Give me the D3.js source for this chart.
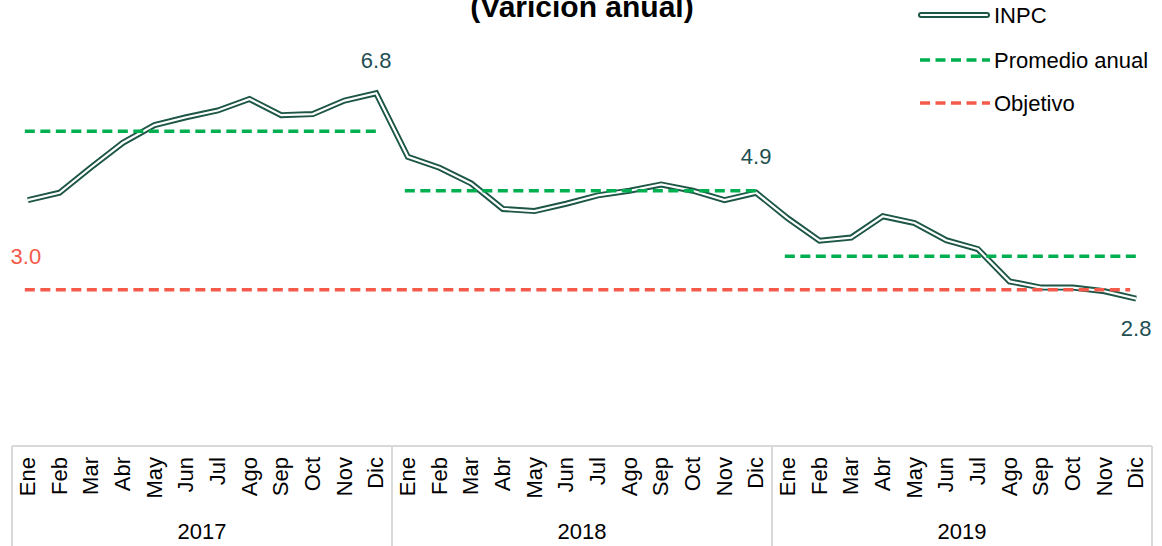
<!DOCTYPE html>
<html>
<head>
<meta charset="utf-8">
<script src="https://cdnjs.cloudflare.com/ajax/libs/d3/7.8.5/d3.min.js"></script>
<style>
	body { margin: 0; background: #fff; }
	svg { display: block; font-family: "Liberation Sans", Arial, sans-serif; }
</style>
</head>
<body>
<svg width="1162" height="546"></svg>
<script>
	// datos
	var years = ["2017", "2018", "2019"];
	var months = ["Ene","Feb","Mar","Abr","May","Jun","Jul","Ago","Sep","Oct","Nov","Dic"];
	var inpc2017 = [4.72, 4.86, 5.35, 5.82, 6.16, 6.31, 6.44, 6.66, 6.35, 6.37, 6.63, 6.77];
	var inpc2018 = [5.55, 5.34, 5.04, 4.55, 4.51, 4.65, 4.81, 4.90, 5.02, 4.90, 4.72, 4.86];
	var inpc2019 = [4.37, 3.94, 4.00, 4.41, 4.28, 3.95, 3.78, 3.16, 3.04, 3.04, 2.97, 2.83];
	var promedios = [6.04, 4.90, 3.64];
	var objetivo = 3.0;

	var svg = d3.select("svg");

	var serie = [];
	[inpc2017, inpc2018, inpc2019].forEach(function(arr, yi){
		arr.forEach(function(v, mi){
			serie.push({year: years[yi], month: months[mi], key: years[yi] + "-" + months[mi], v: v});
		});
	});

	var x = d3.scaleBand()
		.domain(serie.map(function(d){ return d.key; }))
		.range([12, 1152]);

	var y = d3.scaleLinear()
		.domain([0, 7])
		.range([446, 446 - 7 * 52.1]);

	var cx = function(key){ return x(key) + x.bandwidth() / 2; };

	var inpcColor = "#1d5646",
		promColor = "#00b050",
		objColor = "#f55a4a",
		labelColor = "#1f4f52";

	// titulo (cortado arriba, igual que el original)
	svg.append("text")
		.attr("x", 582)
		.attr("y", 17)
		.attr("text-anchor", "middle")
		.style("font-weight", "bold")
		.style("font-size", "30px")
		.attr("fill", "#000")
		.text("(Varición anual)");

	// INPC doble linea
	var line = d3.line()
		.x(function(d){ return cx(d.key); })
		.y(function(d){ return y(d.v); });

	svg.append("path")
		.datum(serie)
		.attr("d", line)
		.attr("fill", "none")
		.attr("stroke", inpcColor)
		.attr("stroke-width", 6)
		.attr("stroke-linejoin", "miter");

	svg.append("path")
		.datum(serie)
		.attr("d", line)
		.attr("fill", "none")
		.attr("stroke", "#fff")
		.attr("stroke-width", 2.2)
		.attr("stroke-linejoin", "miter");

	// promedio anual
	svg.selectAll(".prom")
		.data(promedios)
		.enter().append("line")
		.attr("class", "prom")
		.attr("x1", function(d, i){ return cx(years[i] + "-Ene") - 3; })
		.attr("x2", function(d, i){ return cx(years[i] + "-Dic"); })
		.attr("y1", function(d){ return y(d); })
		.attr("y2", function(d){ return y(d); })
		.attr("stroke", promColor)
		.attr("stroke-width", 3.5)
		.attr("stroke-dasharray", "10,5.5");

	// objetivo
	svg.append("line")
		.attr("x1", cx("2017-Ene") - 3)
		.attr("x2", cx("2019-Dic") - 6)
		.attr("y1", y(objetivo))
		.attr("y2", y(objetivo))
		.attr("stroke", objColor)
		.attr("stroke-width", 3.5)
		.attr("stroke-dasharray", "10,5.5");

	svg.append("text")
		.attr("x", cx("2017-Ene") - 2)
		.attr("y", y(objetivo) - 26)
		.attr("text-anchor", "middle")
		.style("font-size", "22px")
		.attr("fill", objColor)
		.text(d3.format(".1f")(objetivo));

	// etiquetas de datos
	var etiquetas = [
		{key: "2017-Dic", dy: -25},
		{key: "2018-Dic", dy: -29},
		{key: "2019-Dic", dy: 37}
	];
	svg.selectAll(".lbl")
		.data(etiquetas)
		.enter().append("text")
		.attr("class", "lbl")
		.attr("x", function(d){ return cx(d.key); })
		.attr("y", function(d){
			var p = serie.find(function(s){ return s.key == d.key; });
			return y(p.v) + d.dy;
		})
		.attr("text-anchor", "middle")
		.style("font-size", "22px")
		.attr("fill", labelColor)
		.text(function(d){
			var p = serie.find(function(s){ return s.key == d.key; });
			return d3.format(".1f")(p.v);
		});

	// eje x: cuadro con meses y años
	var axisColor = "#d9d9d9";
	svg.append("line")
		.attr("x1", 12).attr("x2", 1152)
		.attr("y1", 446).attr("y2", 446)
		.attr("stroke", axisColor).attr("stroke-width", 2);

	var bordes = years.map(function(yr){ return x(yr + "-Ene"); });
	bordes.push(x("2019-Dic") + x.bandwidth());
	svg.selectAll(".sep")
		.data(bordes)
		.enter().append("line")
		.attr("class", "sep")
		.attr("x1", function(d){ return d; })
		.attr("x2", function(d){ return d; })
		.attr("y1", 446).attr("y2", 546)
		.attr("stroke", axisColor).attr("stroke-width", 2);

	svg.selectAll(".mes")
		.data(serie)
		.enter().append("text")
		.attr("class", "mes")
		.attr("transform", function(d){ return "translate(" + (cx(d.key) + 7) + ",457) rotate(-90)"; })
		.attr("text-anchor", "end")
		.style("font-size", "22px")
		.attr("fill", "#000")
		.text(function(d){ return d.month; });

	svg.selectAll(".anio")
		.data(years)
		.enter().append("text")
		.attr("class", "anio")
		.attr("x", function(d){ return (x(d + "-Ene") + x(d + "-Dic") + x.bandwidth()) / 2; })
		.attr("y", 539)
		.attr("text-anchor", "middle")
		.style("font-size", "22px")
		.attr("fill", "#000")
		.text(function(d){ return d; });

	// leyenda
	var leg = svg.append("g");
	var legItems = [
		{name: "INPC", y: 15},
		{name: "Promedio anual", y: 60},
		{name: "Objetivo", y: 103}
	];
	legItems.forEach(function(it, i){
		if (i == 0) {
			leg.append("line").attr("x1", 921).attr("x2", 987).attr("y1", it.y).attr("y2", it.y)
				.attr("stroke", inpcColor).attr("stroke-width", 6).attr("stroke-linecap", "round");
			leg.append("line").attr("x1", 921).attr("x2", 987).attr("y1", it.y).attr("y2", it.y)
				.attr("stroke", "#fff").attr("stroke-width", 2.2).attr("stroke-linecap", "round");
		} else {
			leg.append("line").attr("x1", 920).attr("x2", 990).attr("y1", it.y).attr("y2", it.y)
				.attr("stroke", i == 1 ? promColor : objColor)
				.attr("stroke-width", 3.5).attr("stroke-dasharray", "10,5.5");
		}
		leg.append("text")
			.attr("x", 994)
			.attr("y", it.y + 8)
			.style("font-size", "22px")
			.attr("fill", "#000")
			.text(it.name);
	});
</script>
</body>
</html>
